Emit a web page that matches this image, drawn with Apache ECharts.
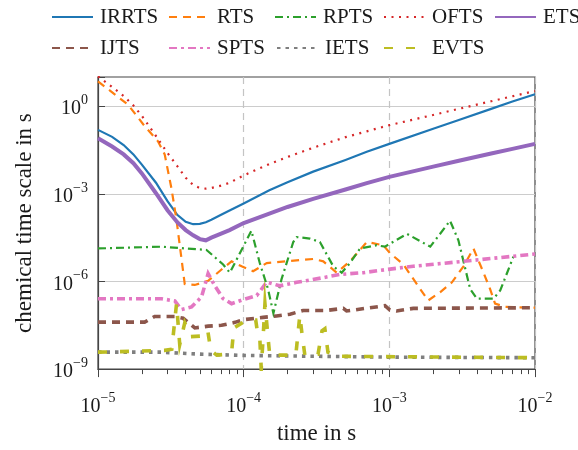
<!DOCTYPE html>
<html>
<head>
<meta charset="utf-8">
<script src="https://cdn.jsdelivr.net/npm/echarts@6/dist/echarts.min.js"></script>
<style>html,body{margin:0;padding:0;background:#fff}#chart{width:578px;height:450px}</style>
</head>
<body>
<div id="chart"></div>
<script>
// ---------------- data ----------------
const seriesNames = ['IRRTS', 'RTS', 'RPTS', 'OFTS', 'ETS', 'IJTS', 'SPTS', 'IETS', 'EVTS'];

const smoothTime = [1e-5, 1.25e-5, 1.5e-5, 1.75e-5, 2e-5, 2.5e-5, 3e-5, 3.5e-5, 4e-5, 4.5e-5, 5e-5, 5.5e-5, 6e-5, 7e-5, 8e-5,
  1e-4, 1.5e-4, 2e-4, 3e-4, 5e-4, 7e-4, 1e-3, 2e-3, 3e-3, 5e-3, 7e-3, 1e-2];
const irrtsValue = [0.155, 0.0891, 0.0468, 0.0224, 0.0100, 2.40e-3, 5.62e-4, 1.91e-4, 1.10e-4, 9.12e-5, 9.33e-5, 1.07e-4, 1.29e-4, 1.91e-4, 2.69e-4,
  4.68e-4, 1.32e-3, 2.51e-3, 5.75e-3, 0.0145, 0.0275, 0.0513, 0.170, 0.339, 0.813, 1.45, 2.57];
const etsValue = [0.0794, 0.0417, 0.0224, 0.0112, 5.01e-3, 1.05e-3, 2.75e-4, 1.07e-4, 5.75e-5, 3.80e-5, 2.82e-5, 2.57e-5, 3.16e-5, 4.37e-5, 5.75e-5,
  1.0e-4, 2.09e-4, 3.55e-4, 6.76e-4, 1.41e-3, 2.34e-3, 3.80e-3, 8.51e-3, 0.0135, 0.0240, 0.0347, 0.0513];
const oftsValue = [10.5, 4.57, 2.24, 1.05, 0.468, 0.0955, 0.0251, 8.91e-3, 3.55e-3, 2.0e-3, 1.58e-3, 1.51e-3, 1.58e-3, 1.91e-3, 2.40e-3,
  4.27e-3, 0.0105, 0.0182, 0.0380, 0.0871, 0.138, 0.224, 0.501, 0.813, 1.48, 2.19, 3.31];

const rtsTime = [1e-5, 1.61e-5, 2.09e-5, 2.58e-5, 2.87e-5, 3.19e-5, 3.46e-5, 3.94e-5, 4.62e-5, 5.70e-5, 7.05e-5, 8.26e-5, 9.68e-5,
  1.16e-4, 1.44e-4, 1.97e-4, 3.01e-4, 3.52e-4, 4.35e-4, 5.37e-4, 7.0e-4, 9.1e-4, 1.01e-3, 1.25e-3, 1.63e-3, 1.85e-3,
  2.23e-3, 2.69e-3, 3.23e-3, 3.78e-3, 4.43e-3, 4.92e-3, 5.32e-3, 6.24e-3, 1e-2];
const rtsValue = [7.08, 1.12, 0.209, 0.0631, 0.0224, 1.58e-3, 1.26e-4, 8.13e-7, 7.59e-7, 1.05e-6, 2.57e-6, 4.90e-6, 3.31e-6,
  2.24e-6, 4.27e-6, 4.90e-6, 5.89e-6, 4.90e-6, 2.0e-6, 4.90e-6, 2.24e-5, 1.74e-5, 9.33e-6, 3.80e-6, 5.50e-7, 2.24e-7,
  4.27e-7, 9.33e-7, 3.31e-6, 1.35e-5, 2.0e-6, 5.50e-7, 1.74e-7, 1.35e-7, 1.26e-7];

const rptsTime = [1e-5, 2.73e-5, 5.56e-5, 7.23e-5, 8.04e-5, 9.93e-5, 1.13e-4, 1.29e-4, 1.47e-4, 1.60e-4, 1.82e-4, 2.19e-4, 2.31e-4,
  2.85e-4, 3.34e-4, 4.12e-4, 4.71e-4, 5.37e-4, 6.30e-4, 8.19e-4, 9.33e-4, 1.32e-3, 1.91e-3, 2.61e-3, 2.98e-3, 3.59e-3,
  3.99e-3, 5.19e-3, 5.77e-3, 7.11e-3];
const rptsValue = [1.35e-5, 1.55e-5, 1.20e-5, 3.80e-6, 2.0e-6, 1.55e-5, 5.50e-5, 4.27e-6, 5.50e-7, 8.13e-8, 1.20e-6, 2.24e-5, 3.31e-5,
  2.95e-5, 2.24e-5, 3.31e-6, 2.0e-6, 4.27e-6, 1.35e-5, 1.74e-5, 1.55e-5, 4.27e-5, 1.55e-5, 1.20e-4, 2.57e-5, 5.50e-7,
  2.57e-7, 2.57e-7, 4.90e-7, 7.08e-6];

const ijtsTime = [1e-5, 2.09e-5, 2.45e-5, 3.37e-5, 3.84e-5, 4.62e-5, 5.70e-5, 7.05e-5, 8.70e-5, 9.92e-5, 1.36e-4, 1.68e-4, 2.08e-4,
  2.56e-4, 3.72e-4, 4.83e-4, 5.09e-4, 7.37e-4, 9.33e-4, 1.01e-3, 1.12e-3, 1.46e-3, 1e-2];
const ijtsValue = [4.07e-8, 4.07e-8, 6.31e-8, 6.31e-8, 5.50e-8, 2.57e-8, 2.95e-8, 3.16e-8, 3.98e-8, 4.90e-8, 5.89e-8, 6.61e-8, 7.59e-8,
  1.02e-7, 1.02e-7, 1.20e-7, 9.77e-8, 1.26e-7, 1.48e-7, 1.05e-7, 9.77e-8, 1.20e-7, 1.26e-7];

const sptsTime = [1e-5, 2.73e-5, 3.37e-5, 3.74e-5, 4.39e-5, 5.14e-5, 5.70e-5, 6.34e-5, 7.23e-5, 8.26e-5, 9.92e-5, 1.23e-4, 1.44e-4,
  1.77e-4, 2.31e-4, 3.52e-4, 4.58e-4, 6.62e-4, 9.59e-4, 1.46e-3, 3.23e-3, 1e-2];
const sptsValue = [2.57e-7, 2.57e-7, 2.14e-7, 1.10e-7, 1.35e-7, 2.95e-7, 1.86e-6, 7.08e-7, 2.57e-7, 1.74e-7, 2.40e-7, 3.31e-7, 9.55e-7,
  7.08e-7, 9.33e-7, 1.35e-6, 1.74e-6, 2.0e-6, 2.57e-6, 3.31e-6, 4.90e-6, 8.71e-6];

const ietsTime = [1e-5, 2.73e-5, 4.62e-5, 9.68e-5, 1.01e-3, 1e-2];
const ietsValue = [3.80e-9, 3.80e-9, 3.31e-9, 2.95e-9, 2.57e-9, 2.45e-9];

const evtsTime = [1e-5, 2.87e-5, 3.21e-5, 3.46e-5, 3.64e-5, 3.94e-5, 4.34e-5, 5.50e-5, 5.67e-5, 5.95e-5, 6.54e-5, 7.79e-5, 8.30e-5,
  8.57e-5, 1.05e-4, 1.21e-4, 1.25e-4, 1.29e-4, 1.32e-4, 1.36e-4, 1.40e-4, 1.47e-4, 1.51e-4, 2.28e-4, 2.43e-4, 2.51e-4,
  2.63e-4, 3.24e-4, 3.45e-4, 3.61e-4, 3.79e-4, 4.58e-4, 1e-2];
const evtsValue = [3.80e-9, 4.37e-9, 4.79e-9, 1.74e-7, 6.92e-9, 3.80e-8, 1.29e-8, 1.38e-8, 2.04e-8, 4.37e-9, 3.02e-9, 3.24e-9, 4.79e-9,
  2.57e-8, 4.79e-8, 4.79e-8, 1.51e-8, 1.20e-8, 1.02e-9, 1.20e-8, 1.74e-7, 1.20e-8, 3.02e-9, 3.02e-9, 6.92e-8, 1.74e-8,
  3.02e-9, 3.24e-9, 2.04e-8, 2.40e-8, 3.80e-9, 2.75e-9, 2.45e-9];

const xMinorTicks = [2e-5, 3e-5, 4e-5, 5e-5, 6e-5, 7e-5, 8e-5, 9e-5, 2e-4, 3e-4, 4e-4, 5e-4, 6e-4, 7e-4, 8e-4, 9e-4,
  2e-3, 3e-3, 4e-3, 5e-3, 6e-3, 7e-3, 8e-3, 9e-3];
const xLabel = 'time in s';
const yLabel = 'chemical time scale in s';

// ---------------- chart ----------------
const FONT = 'Liberation Serif';
const TXT = '#1a1a1a';
const AX = '#454545';

function pairs(t, v) { return t.map((x, i) => [x, v[i]]); }

function mk(name, t, v, color, width, dash) {
  return {
    type: 'line', name: name, data: pairs(t, v),
    symbol: 'none', showSymbol: false, silent: true, animation: false,
    lineStyle: { color: color, width: width, type: dash, cap: 'butt', join: 'miter', miterLimit: 20 },
    itemStyle: { color: color },
    emphasis: { disabled: true }
  };
}

function expLabel(v) {
  const e = Math.round(Math.log10(v));
  return '{b|10}{s|' + (e < 0 ? '\u2212' : '') + Math.abs(e) + '}';
}
const richLbl = {
  b: { fontFamily: FONT, fontSize: 20, color: TXT, verticalAlign: 'bottom', lineHeight: 26 },
  s: { fontFamily: FONT, fontSize: 14, color: TXT, verticalAlign: 'top', lineHeight: 14 }
};

const legendLeft = [51, 168, 274, 383, 494, 51, 168, 276, 383];
const legendTop = [5, 5, 5, 5, 5, 36, 36, 36, 36];

const option = {
  backgroundColor: '#ffffff',
  animation: false,
  grid: { left: 98, right: 43, top: 77, bottom: 72, show: true, borderColor: AX, borderWidth: 1.2, backgroundColor: 'transparent' },
  legend: seriesNames.map((n, i) => ({
    data: [n], left: legendLeft[i], top: legendTop[i], padding: 0,
    itemWidth: 41, itemHeight: 14, selectedMode: false,
    itemStyle: { opacity: 0 },
    textStyle: { fontFamily: FONT, fontSize: 21, color: TXT, lineHeight: 24, padding: [0, 0, 0, 2] }
  })),
  xAxis: [{
    type: 'log', logBase: 10, min: 1e-5, max: 1e-2, position: 'bottom',
    axisLine: { show: true, lineStyle: { color: AX, width: 1.2 } },
    axisTick: { show: true, inside: false, length: 8, lineStyle: { color: AX, width: 1 } },
    axisLabel: { margin: 22, formatter: expLabel, rich: richLbl },
    splitLine: { show: true, showMinLine: false, showMaxLine: false, lineStyle: { type: [7, 5], color: '#c4c4c4', width: 1.2 } },
    name: xLabel, nameLocation: 'middle', nameGap: 49,
    nameTextStyle: { fontFamily: FONT, fontSize: 23, color: TXT }
  }, {
    type: 'log', logBase: 10, min: 1e-5, max: 1e-2, position: 'bottom',
    axisLine: { show: false },
    axisTick: { show: true, inside: false, length: 5, customValues: xMinorTicks, lineStyle: { color: AX, width: 1 } },
    axisLabel: { show: false },
    splitLine: { show: false }
  }],
  yAxis: {
    type: 'log', logBase: 10, min: 1e-9, max: 10, interval: 3,
    axisLine: { show: true, lineStyle: { color: AX, width: 1.2 } },
    axisTick: { show: true, inside: true, length: 7, lineStyle: { color: AX, width: 1 } },
    axisLabel: {
      margin: 10,
      formatter: function (v) {
        const e = Math.round(Math.log10(v));
        if (e % 3 !== 0 || e > 0) return '';
        return expLabel(v);
      },
      rich: richLbl
    },
    splitLine: { show: true, showMinLine: false, showMaxLine: false, lineStyle: { color: '#cccccc', width: 1.2 } },
    name: yLabel, nameLocation: 'middle', nameGap: 62, nameRotate: 90,
    nameTextStyle: { fontFamily: FONT, fontSize: 23, color: TXT }
  },
  series: [
    mk('IRRTS', smoothTime, irrtsValue, '#1f77b4', 2.2, 'solid'),
    mk('RTS', rtsTime, rtsValue, '#ff7f0e', 2.2, [8, 6]),
    mk('RPTS', rptsTime, rptsValue, '#2ca02c', 2.2, [8, 4, 2, 4]),
    mk('OFTS', smoothTime, oftsValue, '#d62728', 2.2, [2, 5.5]),
    mk('ETS', smoothTime, etsValue, '#9467bd', 4, 'solid'),
    mk('IJTS', ijtsTime, ijtsValue, '#8c564b', 3.6, [8, 6]),
    mk('SPTS', sptsTime, sptsValue, '#e377c2', 3.6, [8, 4, 3, 4]),
    mk('IETS', ietsTime, ietsValue, '#7f7f7f', 3.6, [3.5, 5]),
    mk('EVTS', evtsTime, evtsValue, '#bcbd22', 3.6, [9, 13])
  ]
};

const chart = echarts.init(document.getElementById('chart'), null, { renderer: 'canvas' });
chart.setOption(option);
</script>
</body>
</html>
